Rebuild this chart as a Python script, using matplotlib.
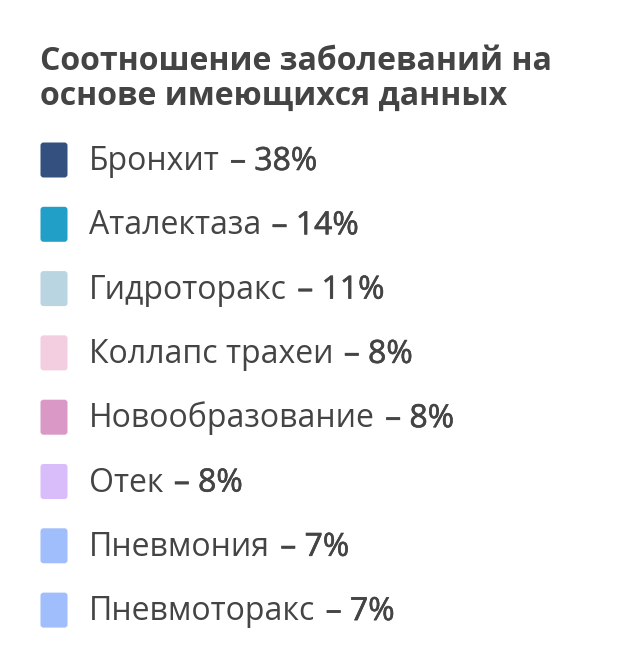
import matplotlib.pyplot as plt
import matplotlib.patheffects as pe
from matplotlib.patches import FancyBboxPatch

plt.rcParams['font.family'] = ['Open Sans', 'DejaVu Sans']

title = 'Соотношение заболеваний на\nоснове имеющихся данных'
labels = ['Бронхит', 'Аталектаза', 'Гидроторакс', 'Коллапс трахеи',
          'Новообразование', 'Отек', 'Пневмония', 'Пневмоторакс']
shares = [38, 14, 11, 8, 8, 8, 7, 7]
colors = ['#34507f', '#219fc7', '#b8d5e1', '#f3cde0',
          '#d998c6', '#d9bcfa', '#a0bdfc', '#a0bdfc']

W, H = 624, 669
fig = plt.figure(figsize=(W / 100, H / 100), dpi=100)
ax = fig.add_axes([0, 0, 1, 1])
ax.set_xlim(0, W)
ax.set_ylim(H, 0)
ax.axis('off')

txt_color = '#444444'
ax.text(40, 69.5, title.split('\n')[0], fontsize=23, fontweight='bold',
        color=txt_color, va='baseline', ha='left')
ax.text(40, 105, title.split('\n')[1], fontsize=23, fontweight='bold',
        color=txt_color, va='baseline', ha='left')

# medium weight for the percentage part (faked with a thin stroke)
medium = [pe.withStroke(linewidth=0.45, foreground=txt_color)]

y0, step = 160, 64.3
fig.canvas.draw()
renderer = fig.canvas.get_renderer()
for i, (lab, val, col) in enumerate(zip(labels, shares, colors)):
    yc = y0 + i * step
    box = FancyBboxPatch((40.5, yc - 17.5), 27, 35,
                         boxstyle='round,pad=0,rounding_size=3',
                         facecolor=col, edgecolor='none')
    ax.add_patch(box)
    t = ax.text(89, yc + 10, lab, fontsize=23, color=txt_color,
                va='baseline', ha='left')
    bb = t.get_window_extent(renderer)
    x_end = ax.transData.inverted().transform((bb.x1, 0))[0]
    ax.text(x_end + 2, yc + 10, f' – {val}%', fontsize=23,
            color=txt_color, va='baseline', ha='left', path_effects=medium)

fig.savefig('out.png', dpi=100, facecolor='white')
